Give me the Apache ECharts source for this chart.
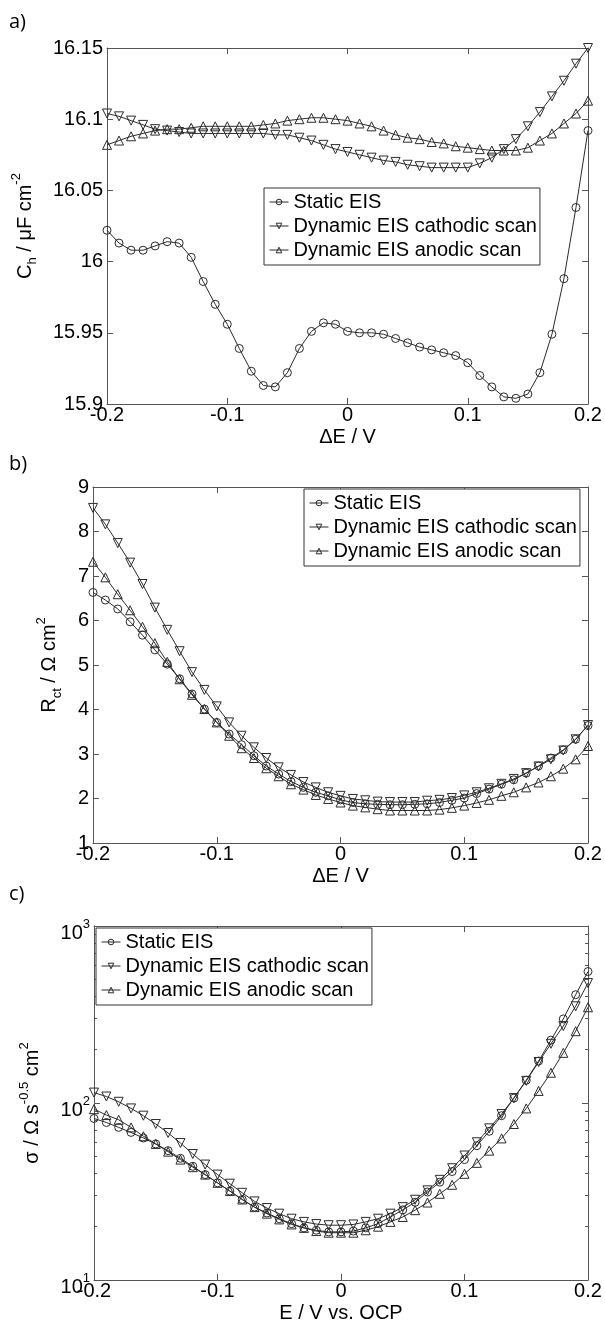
<!DOCTYPE html>
<html lang="en">
<head>
    <meta charset="UTF-8">
    <title>EIS comparison</title>
    <script src="https://cdn.jsdelivr.net/npm/echarts@6/dist/echarts.min.js"></script>
</head>
<body style="margin: 0; background: #fff;">
    <div id="echarts" style="width: 605px; height: 1324px;"></div>
    <script>
        // potential steps, V (shared by all three panels)
        const potential = [-0.2, -0.19, -0.18, -0.17, -0.16, -0.15, -0.14, -0.13, -0.12, -0.11, -0.1,
            -0.09, -0.08, -0.07, -0.06, -0.05, -0.04, -0.03, -0.02, -0.01, 0,
            0.01, 0.02, 0.03, 0.04, 0.05, 0.06, 0.07, 0.08, 0.09, 0.1,
            0.11, 0.12, 0.13, 0.14, 0.15, 0.16, 0.17, 0.18, 0.19, 0.2];
        const seriesNames = ['Static EIS', 'Dynamic EIS cathodic scan', 'Dynamic EIS anodic scan'];

        // a) C_h, uF cm-2
        const chStatic = [16.022, 16.013, 16.008, 16.008, 16.011, 16.014, 16.013, 16.003, 15.986, 15.970, 15.956,
            15.939, 15.923, 15.913, 15.912, 15.922, 15.939, 15.951, 15.957, 15.956, 15.951,
            15.950, 15.950, 15.949, 15.946, 15.943, 15.940, 15.938, 15.936, 15.934, 15.929,
            15.920, 15.912, 15.905, 15.904, 15.907, 15.922, 15.949, 15.988, 16.038, 16.092];
        const chCathodic = [16.104, 16.102, 16.099, 16.096, 16.093, 16.092, 16.091, 16.090, 16.090, 16.090, 16.090,
            16.090, 16.090, 16.090, 16.089, 16.089, 16.087, 16.085, 16.082, 16.079, 16.077,
            16.075, 16.073, 16.071, 16.070, 16.068, 16.067, 16.066, 16.066, 16.066, 16.066,
            16.069, 16.073, 16.079, 16.086, 16.095, 16.105, 16.116, 16.127, 16.139, 16.150];
        const chAnodic = [16.082, 16.085, 16.088, 16.090, 16.092, 16.093, 16.093, 16.094, 16.095, 16.095, 16.095,
            16.095, 16.095, 16.096, 16.097, 16.099, 16.100, 16.101, 16.101, 16.100, 16.099,
            16.097, 16.095, 16.092, 16.089, 16.087, 16.086, 16.084, 16.083, 16.081, 16.080,
            16.079, 16.078, 16.078, 16.078, 16.080, 16.085, 16.090, 16.097, 16.104, 16.113];

        // b) R_ct, Ohm cm2
        const rctStatic = [6.63, 6.46, 6.26, 5.97, 5.67, 5.34, 5.02, 4.69, 4.35, 4.01, 3.71,
            3.45, 3.21, 2.96, 2.73, 2.55, 2.38, 2.25, 2.14, 2.06, 1.97,
            1.91, 1.88, 1.87, 1.86, 1.86, 1.87, 1.88, 1.91, 1.96, 2.01,
            2.11, 2.21, 2.32, 2.42, 2.57, 2.73, 2.91, 3.09, 3.33, 3.64];
        const rctCathodic = [8.53, 8.16, 7.74, 7.30, 6.82, 6.29, 5.79, 5.31, 4.84, 4.44, 4.07,
            3.71, 3.41, 3.15, 2.91, 2.70, 2.53, 2.37, 2.25, 2.14, 2.06,
            1.99, 1.96, 1.93, 1.92, 1.92, 1.92, 1.95, 1.97, 2.01, 2.07,
            2.14, 2.23, 2.33, 2.44, 2.57, 2.72, 2.88, 3.08, 3.33, 3.65];
        const rctAnodic = [7.32, 6.97, 6.59, 6.23, 5.86, 5.49, 5.07, 4.68, 4.33, 4.01, 3.71,
            3.41, 3.13, 2.91, 2.68, 2.50, 2.32, 2.20, 2.08, 1.99, 1.91,
            1.84, 1.80, 1.76, 1.73, 1.73, 1.73, 1.73, 1.75, 1.79, 1.84,
            1.90, 1.97, 2.06, 2.14, 2.25, 2.36, 2.50, 2.67, 2.88, 3.18];

        // c) sigma, Ohm s-0.5 cm2 (log axis)
        const sigmaStatic = [81.8, 77.6, 72.8, 68.2, 63.4, 58.7, 53.8, 48.7, 43.9, 39.4, 35.4,
            31.8, 28.5, 25.8, 23.9, 22.2, 20.8, 19.7, 19.1, 18.7, 18.7,
            18.9, 19.7, 20.8, 22.7, 24.9, 27.5, 31.4, 35.7, 41.0, 47.9,
            57.4, 69.2, 84.8, 106.6, 134.4, 172.6, 226.5, 298.5, 409, 553];
        const sigmaCathodic = [114.5, 108.8, 101.6, 93.2, 84.8, 76.1, 67.7, 59.4, 51.5, 44.9, 39.4,
            35.0, 31.1, 27.8, 25.5, 23.7, 22.2, 21.3, 20.7, 20.4, 20.4,
            20.6, 21.3, 22.2, 23.7, 25.8, 28.4, 32.1, 36.8, 42.8, 50.5,
            60.0, 71.9, 86.6, 106.6, 133.4, 170.4, 216.1, 272, 351.7, 476];
        const sigmaAnodic = [92.3, 85.5, 80.4, 72.8, 64.9, 58.7, 53.1, 47.9, 43.4, 39.4, 35.4,
            31.8, 28.5, 25.8, 23.7, 22.0, 20.6, 19.7, 18.9, 18.5, 18.5,
            18.5, 19.1, 20.0, 21.3, 22.7, 24.8, 27.4, 30.7, 34.5, 39.8,
            45.9, 53.8, 63.1, 76.1, 93.2, 117, 148.2, 192, 254.5, 347.5];

        const FONT = 'Liberation Sans';
        const INK = '#2b2b2b';
        const AXIS = '#555';

        // rich text pieces for sub/superscripts (every piece has the same box height)
        const rich = {
            n: {fontFamily: FONT, fontSize: 20, lineHeight: 20, padding: [7, 0, 7, 0], verticalAlign: 'top', color: '#000'},
            sub: {fontFamily: FONT, fontSize: 13, lineHeight: 13, padding: [18, 0, 3, 0], verticalAlign: 'top', color: '#000'},
            sup: {fontFamily: FONT, fontSize: 13, lineHeight: 13, padding: [2, 0, 19, 0], verticalAlign: 'top', color: '#000'}
        };

        const grids = [
            {left: 107, top: 48, width: 481, height: 356},
            {left: 93, top: 487, width: 495, height: 356},
            {left: 94, top: 926, width: 494, height: 356}
        ];

        const labelStyle = {fontFamily: FONT, fontSize: 20, color: '#000'};
        const lineOpt = {show: true, onZero: false, lineStyle: {color: AXIS, width: 1}};
        const tickOpt = {show: true, inside: true, length: 6, lineStyle: {color: AXIS}};

        function xPair(gi, title) {
            const base = {
                type: 'value', gridIndex: gi, min: -0.2, max: 0.2, interval: 0.1,
                axisLine: lineOpt, axisTick: tickOpt, splitLine: {show: false}
            };
            return [
                Object.assign({}, base, {
                    position: 'bottom',
                    axisLabel: Object.assign({margin: 1, formatter: v => String(Math.round(v * 10) / 10)}, labelStyle),
                    name: title, nameLocation: 'middle', nameGap: 23,
                    nameTextStyle: {fontFamily: FONT, fontSize: 20, color: '#000', verticalAlign: 'top'}
                }),
                Object.assign({}, base, {position: 'top', axisLabel: {show: false}})
            ];
        }

        function yPair(gi, opts, title, gap) {
            const base = Object.assign({
                gridIndex: gi, axisLine: lineOpt, axisTick: tickOpt, splitLine: {show: false}
            }, opts);
            return [
                Object.assign({}, base, {
                    position: 'left',
                    axisLabel: Object.assign({margin: 4, rich: rich}, labelStyle, opts.axisLabel || {}),
                    name: title, nameLocation: 'middle', nameGap: gap, nameRotate: 90,
                    nameTextStyle: {rich: rich}
                }),
                Object.assign({}, base, {position: 'right', axisLabel: {show: false}})
            ];
        }

        const xAxis = [].concat(
            xPair(0, 'ΔE / V'),
            xPair(1, 'ΔE / V'),
            xPair(2, 'E / V vs. OCP')
        );

        const yAxis = [].concat(
            yPair(0, {type: 'value', min: 15.9, max: 16.15, interval: 0.05,
                axisLabel: {formatter: v => String(Math.round(v * 100) / 100)}},
                '{n|C}{sub|h}{n| / μF cm}{sup|-2}', 62),
            yPair(1, {type: 'value', min: 1, max: 9, interval: 1},
                '{n|R}{sub|ct}{n| / Ω cm}{sup|2}', 27),
            yPair(2, {type: 'log', logBase: 10, min: 10, max: 1000,
                minorTick: {show: true, splitNumber: 9, length: 3, lineStyle: {color: AXIS}},
                axisLabel: {formatter: v => '{n|10}{sup|' + Math.round(Math.log10(v)) + '}'}},
                '{n|σ / Ω s}{sup|-0.5}{n| cm}{sup|2}', 30)
        );

        const symbols = [
            {symbol: 'circle', rotate: 0},
            {symbol: 'triangle', rotate: 180},
            {symbol: 'triangle', rotate: 0}
        ];

        const panelData = [
            [chStatic, chCathodic, chAnodic],
            [rctStatic, rctCathodic, rctAnodic],
            [sigmaStatic, sigmaCathodic, sigmaAnodic]
        ];

        const series = [];
        panelData.forEach((sets, gi) => {
            sets.forEach((vals, si) => {
                series.push({
                    type: 'line',
                    name: seriesNames[si],
                    xAxisIndex: gi * 2,
                    yAxisIndex: gi * 2,
                    data: potential.map((x, k) => [x, vals[k]]),
                    symbol: symbols[si].symbol,
                    symbolRotate: symbols[si].rotate,
                    symbolSize: si === 0 ? 8 : 9,
                    showAllSymbol: true,
                    lineStyle: {color: INK, width: 1},
                    itemStyle: {color: 'rgba(255,255,255,0)', borderColor: INK, borderWidth: 1},
                    emphasis: {disabled: true},
                    animation: false,
                    z: 3 - si
                });
            });
        });

        const legendPos = [
            {left: 264, top: 188},
            {left: 304, top: 489},
            {left: 96, top: 928}
        ];
        const legend = legendPos.map(p => ({
            left: p.left, top: p.top,
            orient: 'vertical',
            data: seriesNames,
            selectedMode: false,
            itemWidth: 19, itemHeight: 7, itemGap: 4,
            padding: [4, 3, 5, 5],
            backgroundColor: '#fff',
            borderColor: '#333', borderWidth: 1, borderRadius: 0,
            itemStyle: {color: 'rgba(255,255,255,0)', borderColor: INK, borderWidth: 1},
            lineStyle: {color: INK, width: 1},
            textStyle: {fontFamily: FONT, fontSize: 20, lineHeight: 20, color: '#000'}
        }));

        // panel letters
        const graphic = [['a)', 12], ['b)', 454], ['c)', 884]].map(p => ({
            type: 'text', left: 9, top: p[1],
            style: {text: p[0], fontFamily: 'Open Sans', fontSize: 20, fill: '#000'}
        }));

        const myChart = echarts.init(document.querySelector('#echarts'), null, {renderer: 'canvas'});
        myChart.setOption({
            animation: false,
            backgroundColor: '#fff',
            grid: grids,
            xAxis: xAxis,
            yAxis: yAxis,
            legend: legend,
            series: series,
            graphic: graphic
        });
    </script>
</body>
</html>
